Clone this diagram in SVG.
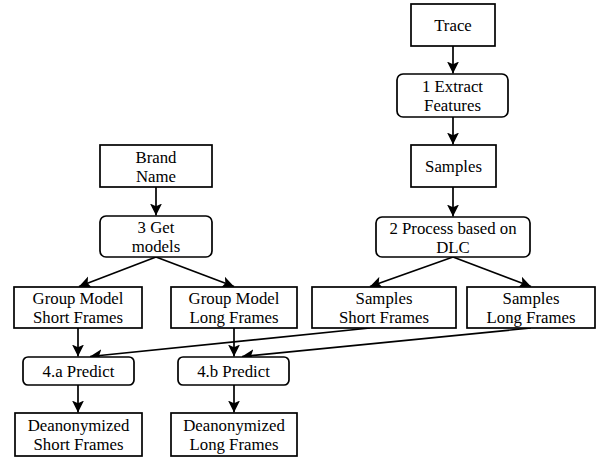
<svg xmlns="http://www.w3.org/2000/svg" width="600" height="459" viewBox="0 0 600 459">
<style>
.b{fill:#fff;stroke:#000;stroke-width:1.7}
.t{font-family:"Liberation Serif";font-size:16.8px;fill:#000;text-anchor:middle}
.e{fill:none;stroke:#000;stroke-width:1.7;marker-end:url(#a)}
</style>
<defs>
<marker id="a" markerUnits="userSpaceOnUse" markerWidth="13" markerHeight="13" viewBox="0 0 13 13" refX="12" refY="6.5" orient="auto">
<path d="M0,0.5 L12,6.5 L0,12.5 L2.8,6.5 z" fill="#000"/>
</marker>
</defs>
<rect width="600" height="459" fill="#fff"/>
<g id="connectors">
<line class="e" x1="453" y1="46" x2="453" y2="73.5"/>
<line class="e" x1="453" y1="117" x2="453" y2="144.5"/>
<line class="e" x1="453" y1="187" x2="453" y2="216.5"/>
<line class="e" x1="156" y1="187" x2="156" y2="215.5"/>
<line class="e" x1="156" y1="257" x2="79" y2="286.5"/>
<line class="e" x1="156" y1="257" x2="234" y2="286.5"/>
<line class="e" x1="453" y1="257" x2="370" y2="286.5"/>
<line class="e" x1="453" y1="257" x2="531" y2="286.5"/>
<line class="e" x1="78" y1="328" x2="78" y2="356.5"/>
<line class="e" x1="234" y1="328" x2="234" y2="356.5"/>
<line class="e" x1="370" y1="328" x2="90" y2="356.5"/>
<line class="e" x1="531" y1="328" x2="242" y2="356.5"/>
<line class="e" x1="78" y1="385" x2="78" y2="412.5"/>
<line class="e" x1="234" y1="385" x2="234" y2="412.5"/>
</g>
<g font-family="Liberation Serif">
<g id="trace"><rect class="b" x="411" y="4" width="84" height="42"/><text class="t" x="453" y="30.5">Trace</text></g>
<g id="extract"><rect class="b" x="397" y="74" width="111" height="43" rx="6"/><text class="t" x="452.5" y="92">1 Extract</text><text class="t" x="452.5" y="111">Features</text></g>
<g id="samples"><rect class="b" x="411" y="145" width="85" height="42"/><text class="t" x="453.5" y="171.5">Samples</text></g>
<g id="process"><rect class="b" x="376" y="217" width="154" height="40" rx="6"/><text class="t" x="453" y="233.5">2 Process based on</text><text class="t" x="453" y="252.5">DLC</text></g>
<g id="samples-short"><rect class="b" x="312" y="287" width="144" height="41"/><text class="t" x="384" y="304">Samples</text><text class="t" x="384" y="323">Short Frames</text></g>
<g id="samples-long"><rect class="b" x="467" y="287" width="128" height="41"/><text class="t" x="531" y="304">Samples</text><text class="t" x="531" y="323">Long Frames</text></g>
<g id="brand"><rect class="b" x="100" y="145" width="112" height="42"/><text class="t" x="156" y="162.5">Brand</text><text class="t" x="156" y="181.5">Name</text></g>
<g id="getmodels"><rect class="b" x="100" y="216" width="112" height="41" rx="6"/><text class="t" x="156" y="233">3 Get</text><text class="t" x="156" y="252">models</text></g>
<g id="gm-short"><rect class="b" x="14" y="287" width="128" height="41"/><text class="t" x="78" y="304">Group Model</text><text class="t" x="78" y="323">Short Frames</text></g>
<g id="gm-long"><rect class="b" x="171" y="287" width="126" height="41"/><text class="t" x="234" y="304">Group Model</text><text class="t" x="234" y="323">Long Frames</text></g>
<g id="predict-a"><rect class="b" x="23" y="357" width="111" height="28" rx="5"/><text class="t" x="78.5" y="376.5">4.a Predict</text></g>
<g id="predict-b"><rect class="b" x="178" y="357" width="111" height="28" rx="5"/><text class="t" x="233.5" y="376.5">4.b Predict</text></g>
<g id="deanon-short"><rect class="b" x="15" y="413" width="127" height="43"/><text class="t" x="78.5" y="431">Deanonymized</text><text class="t" x="78.5" y="450">Short Frames</text></g>
<g id="deanon-long"><rect class="b" x="171" y="413" width="126" height="43"/><text class="t" x="234" y="431">Deanonymized</text><text class="t" x="234" y="450">Long Frames</text></g>
</g>
</svg>
